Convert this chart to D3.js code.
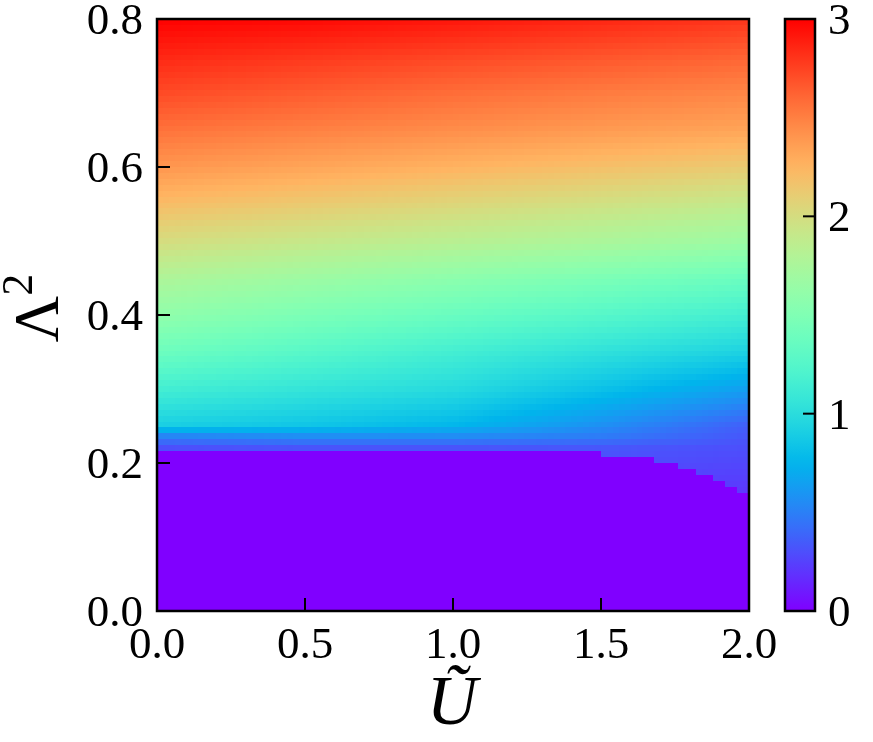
<!DOCTYPE html>
<html lang="en">
<head>
<meta charset="UTF-8">
<title>Lambda^2 vs U map</title>
<script src="https://d3js.org/d3.v7.min.js"></script>
<style>
    body { margin: 0; background: #fff; }
    #wrap { position: relative; width: 873px; height: 742px; }
    #heat { position: absolute; image-rendering: pixelated; }
    #chart { position: absolute; left: 0; top: 0; }
    #chart text { font-family: "Liberation Serif", "DejaVu Serif", serif; fill: #000; }
</style>
</head>
<body>
<div id="wrap">
    <canvas id="heat"></canvas>
    <svg id="chart" width="873" height="742"></svg>
</div>
<script>
// values
var uGrid = [0, 0.5, 1.0, 1.5, 2.0];
var lamGrid = [0.80, 0.75, 0.70, 0.65, 0.60, 0.55, 0.50, 0.45, 0.40, 0.35, 0.30, 0.25, 0.235, 0.22, 0.20, 0.18, 0.16];
var zGrid = [
    [3.00, 2.97, 2.92, 2.86, 2.80],
    [2.86, 2.80, 2.74, 2.68, 2.62],
    [2.72, 2.65, 2.58, 2.52, 2.47],
    [2.56, 2.50, 2.44, 2.38, 2.33],
    [2.40, 2.33, 2.26, 2.19, 2.12],
    [2.21, 2.13, 2.05, 1.97, 1.89],
    [2.01, 1.92, 1.84, 1.76, 1.67],
    [1.78, 1.68, 1.58, 1.48, 1.38],
    [1.60, 1.48, 1.37, 1.26, 1.15],
    [1.39, 1.27, 1.15, 1.03, 0.92],
    [1.15, 1.06, 0.98, 0.82, 0.64],
    [0.90, 0.84, 0.76, 0.57, 0.36],
    [0.50, 0.55, 0.55, 0.48, 0.33],
    [0.30, 0.32, 0.32, 0.33, 0.30],
    [0.30, 0.30, 0.30, 0.30, 0.27],
    [0.28, 0.28, 0.27, 0.26, 0.24],
    [0.25, 0.25, 0.24, 0.23, 0.21]
];
// lower edge of the non-zero region
var edgeU   = [0, 0.25, 0.5, 0.75, 1.0, 1.25, 1.5, 1.63, 1.74, 1.86, 1.94, 2.0];
var edgeLam = [0.217, 0.219, 0.220, 0.220, 0.219, 0.216, 0.212, 0.208, 0.200, 0.184, 0.168, 0.155];

var xTicks = [0, 0.5, 1.0, 1.5, 2.0];
var yTicks = [0, 0.2, 0.4, 0.6, 0.8];
var cbTicks = [0, 1, 2, 3];

var L = 157, R = 749, T = 19, B = 611;
var nCells = 100;

// matplotlib "rainbow"
function rainbow(t) {
    t = Math.max(0, Math.min(1, t));
    var r = Math.min(1, Math.abs(2 * t - 0.5));
    var g = Math.sin(t * Math.PI);
    var b = Math.cos(t * Math.PI / 2);
    return d3.rgb(r * 255, g * 255, Math.max(0, b) * 255);
}
var zMax = 3;

var x = d3.scaleLinear().domain([0, 2]).range([L, R]);
var y = d3.scaleLinear().domain([0, 0.8]).range([B, T]);
var uIdx = d3.scaleLinear().domain(uGrid).range(d3.range(uGrid.length)).clamp(true);
var lamIdx = d3.scaleLinear().domain(lamGrid).range(d3.range(lamGrid.length)).clamp(true);
var edge = d3.scaleLinear().domain(edgeU).range(edgeLam).clamp(true);

function valueAt(u, lam) {
    if (lam < edge(u)) return 0;
    var fi = lamIdx(lam), fj = uIdx(u);
    var i0 = Math.min(Math.floor(fi), lamGrid.length - 2), j0 = Math.min(Math.floor(fj), uGrid.length - 2);
    var di = fi - i0, dj = fj - j0;
    var a = zGrid[i0][j0] * (1 - dj) + zGrid[i0][j0 + 1] * dj;
    var c = zGrid[i0 + 1][j0] * (1 - dj) + zGrid[i0 + 1][j0 + 1] * dj;
    return a * (1 - di) + c * di;
}

// heat map on canvas
var canvas = document.getElementById("heat");
canvas.width = nCells; canvas.height = nCells;
canvas.style.left = L + "px"; canvas.style.top = T + "px";
canvas.style.width = (R - L) + "px"; canvas.style.height = (B - T) + "px";
var ctx = canvas.getContext("2d");
var uCell = d3.scaleLinear().domain([0, nCells]).range([0, 2]);
var lamCell = d3.scaleLinear().domain([0, nCells]).range([0.8, 0]);
for (var i = 0; i < nCells; i++) {
    for (var j = 0; j < nCells; j++) {
        ctx.fillStyle = rainbow(valueAt(uCell(j + 0.5), lamCell(i + 0.5)) / zMax).toString();
        ctx.fillRect(j, i, 1, 1);
    }
}

var svg = d3.select("#chart");

// ticks (inward, bottom and left only)
svg.append("g").selectAll("line").data(xTicks).join("line")
    .attr("x1", d => x(d)).attr("x2", d => x(d))
    .attr("y1", B).attr("y2", B - 13)
    .attr("stroke", "#000").attr("stroke-width", 2);
svg.append("g").selectAll("line").data(yTicks).join("line")
    .attr("x1", L).attr("x2", L + 13)
    .attr("y1", d => y(d)).attr("y2", d => y(d))
    .attr("stroke", "#000").attr("stroke-width", 2);

svg.append("rect")
    .attr("x", L).attr("y", T).attr("width", R - L).attr("height", B - T)
    .attr("fill", "none").attr("stroke", "#000").attr("stroke-width", 2.5);

svg.append("g").selectAll("text").data(xTicks).join("text")
    .attr("x", d => x(d)).attr("y", 658)
    .attr("text-anchor", "middle").attr("font-size", 45)
    .text(d => d.toFixed(1));
svg.append("g").selectAll("text").data(yTicks).join("text")
    .attr("x", 143).attr("y", d => y(d) + 15)
    .attr("text-anchor", "end").attr("font-size", 45)
    .text(d => d.toFixed(1));

// axis labels
svg.append("text")
    .attr("x", 452).attr("y", 724)
    .attr("text-anchor", "middle").attr("font-size", 70).attr("font-style", "italic")
    .text("\u0168");
var yl = svg.append("text")
    .attr("transform", "translate(58,308) rotate(-90)")
    .attr("text-anchor", "middle").attr("font-size", 64);
yl.append("tspan").text("\u039B");
yl.append("tspan").attr("font-size", 44).attr("dy", -26).text("2");

// colour bar
var cbL = 785, cbR = 815;
var cbY = d3.scaleLinear().domain([0, zMax]).range([B, T]);
var grad = svg.append("defs").append("linearGradient")
    .attr("id", "cbGrad").attr("x1", 0).attr("y1", 1).attr("x2", 0).attr("y2", 0);
grad.selectAll("stop").data(d3.range(0, 1.0001, 0.02)).join("stop")
    .attr("offset", d => d)
    .attr("stop-color", d => rainbow(d).toString());
svg.append("rect")
    .attr("x", cbL).attr("y", T).attr("width", cbR - cbL).attr("height", B - T)
    .attr("fill", "url(#cbGrad)").attr("stroke", "#000").attr("stroke-width", 2.5);
svg.append("g").selectAll("line").data(cbTicks).join("line")
    .attr("x1", cbR).attr("x2", cbR - 12)
    .attr("y1", d => cbY(d)).attr("y2", d => cbY(d))
    .attr("stroke", "#000").attr("stroke-width", 2);
svg.append("g").selectAll("text").data(cbTicks).join("text")
    .attr("x", 828).attr("y", d => cbY(d) + 15)
    .attr("font-size", 45)
    .text(d => d);
</script>
</body>
</html>
